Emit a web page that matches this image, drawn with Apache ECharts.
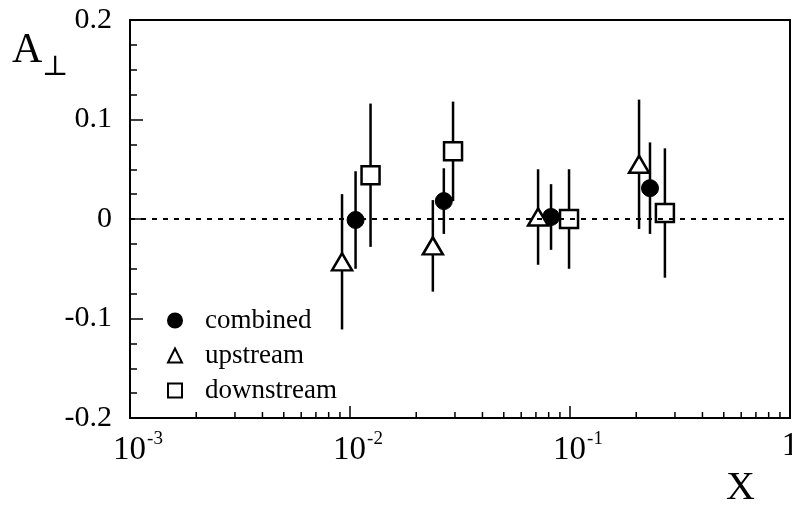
<!DOCTYPE html>
<html>
<head>
<meta charset="utf-8">
<script src="https://cdn.jsdelivr.net/npm/echarts@6/dist/echarts.min.js"></script>
<style>
  html, body { margin: 0; padding: 0; background: #fff; }
  #chart { width: 792px; height: 508px; }
</style>
</head>
<body>
<div id="chart"></div>
<script>
// values
const combinedX = [0.0106, 0.0267, 0.082, 0.231];
const combinedY = [-0.001, 0.018, 0.002, 0.031];
const combinedErr = [0.049, 0.033, 0.033, 0.046];

const upstreamX = [0.0092, 0.0238, 0.0716, 0.206];
const upstreamY = [-0.043, -0.027, 0.002, 0.055];
const upstreamErr = [0.068, 0.046, 0.048, 0.065];

const downstreamX = [0.0124, 0.0294, 0.099, 0.27];
const downstreamY = [0.044, 0.068, 0.0, 0.006];
const downstreamErr = [0.072, 0.05, 0.05, 0.065];

const decades = [0.001, 0.01, 0.1];
const minorSteps = [2, 3, 4, 5, 6, 7, 8, 9];

const serif = "'Liberation Serif', 'DejaVu Serif', serif";

function points(xs, ys) {
  return xs.map((x, i) => [x, ys[i]]);
}
function bars(xs, ys, es) {
  return xs.map((x, i) => [x, ys[i] - es[i], ys[i] + es[i]]);
}

// minor ticks of the log axis (2..9 in each decade)
let minorXTicks = [];
decades.forEach(d => minorSteps.forEach(m => minorXTicks.push([d * m])));

function errorBar(params, api) {
  const lo = api.coord([api.value(0), api.value(1)]);
  const hi = api.coord([api.value(0), api.value(2)]);
  return {
    type: "line",
    shape: { x1: lo[0], y1: lo[1], x2: hi[0], y2: hi[1] },
    style: { stroke: "#000", lineWidth: 2.5 }
  };
}

function minorTick(params, api) {
  const p = api.coord([api.value(0), -0.2]);
  return {
    type: "line",
    shape: { x1: p[0], y1: p[1], x2: p[0], y2: p[1] - 6 },
    style: { stroke: "#000", lineWidth: 1.5 }
  };
}

const chart = echarts.init(document.getElementById("chart"));

const option = {
  animation: false,
  backgroundColor: "#fff",
  grid: {
    left: 130,
    right: 2,
    top: 20,
    bottom: 90,
    containLabel: false,
    outerBoundsMode: "none",
    show: true,
    borderColor: "#000",
    borderWidth: 2,
    backgroundColor: "transparent"
  },
  legend: {
    orient: "vertical",
    left: 162,
    top: 302,
    itemGap: 8,
    itemWidth: 14,
    itemHeight: 14,
    data: ["combined", "upstream", "downstream"],
    textStyle: {
      fontFamily: serif,
      fontSize: 27,
      color: "#000",
      padding: [0, 0, 0, 18]
    }
  },
  xAxis: {
    type: "log",
    logBase: 10,
    min: 0.001,
    max: 1,
    axisLine: { onZero: false, lineStyle: { color: "#000", width: 2 } },
    axisTick: { inside: true, length: 12, lineStyle: { color: "#000", width: 1.5 } },
    splitLine: { show: false },
    axisLabel: {
      margin: 12,
      hideOverlap: false,
      formatter: function (v) {
        const e = Math.round(Math.log10(v));
        if (e === 0) return "{b|1}";
        return "{sp|}{b|10}{s|" + e + "}";
      },
      rich: {
        b: { fontFamily: serif, fontSize: 33, color: "#000", verticalAlign: "bottom" },
        s: { fontFamily: serif, fontSize: 19, color: "#000", verticalAlign: "bottom", padding: [0, 0, 18, 1] },
        sp: { width: 16 }
      }
    }
  },
  yAxis: {
    type: "value",
    min: -0.2,
    max: 0.2,
    interval: 0.1,
    axisLine: { show: true, lineStyle: { color: "#000", width: 2 } },
    axisTick: { inside: true, length: 13, lineStyle: { color: "#000", width: 1.5 } },
    minorTick: { show: true, splitNumber: 4, length: 7, lineStyle: { color: "#000", width: 1.5 } },
    splitLine: { show: false },
    axisLabel: {
      margin: 18,
      fontFamily: serif,
      fontSize: 30,
      color: "#000"
    }
  },
  graphic: [
    { type: "text", left: 12, top: 30, style: { text: "A", font: "42px " + serif, fill: "#000" } },
    { type: "text", left: 42, top: 54, style: { text: "⊥", font: "28px " + serif, fill: "#000" } },
    { type: "text", left: 726, top: 468, style: { text: "X", font: "40px " + serif, fill: "#000" } }
  ],
  series: [
    {
      type: "custom",
      silent: true,
      renderItem: minorTick,
      data: minorXTicks,
      z: 1
    },
    {
      type: "line",
      data: [],
      silent: true,
      markLine: {
        silent: true,
        symbol: "none",
        label: { show: false },
        lineStyle: { color: "#000", type: [5, 6], width: 2 },
        data: [{ yAxis: 0 }]
      }
    },
    { type: "custom", silent: true, renderItem: errorBar, data: bars(upstreamX, upstreamY, upstreamErr), z: 2 },
    { type: "custom", silent: true, renderItem: errorBar, data: bars(combinedX, combinedY, combinedErr), z: 2 },
    { type: "custom", silent: true, renderItem: errorBar, data: bars(downstreamX, downstreamY, downstreamErr), z: 2 },
    {
      name: "combined",
      type: "scatter",
      symbol: "circle",
      symbolSize: 17,
      itemStyle: { color: "#000", borderColor: "#000", borderWidth: 1, opacity: 1 },
      data: points(combinedX, combinedY),
      z: 3
    },
    {
      name: "upstream",
      type: "scatter",
      symbol: "triangle",
      symbolSize: [20, 17],
      itemStyle: { color: "#fff", borderColor: "#000", borderWidth: 2.5, opacity: 1 },
      data: points(upstreamX, upstreamY),
      z: 3
    },
    {
      name: "downstream",
      type: "scatter",
      symbol: "rect",
      symbolSize: 18,
      itemStyle: { color: "#fff", borderColor: "#000", borderWidth: 2.5, opacity: 1 },
      data: points(downstreamX, downstreamY),
      z: 3
    }
  ]
};

chart.setOption(option);
</script>
</body>
</html>
